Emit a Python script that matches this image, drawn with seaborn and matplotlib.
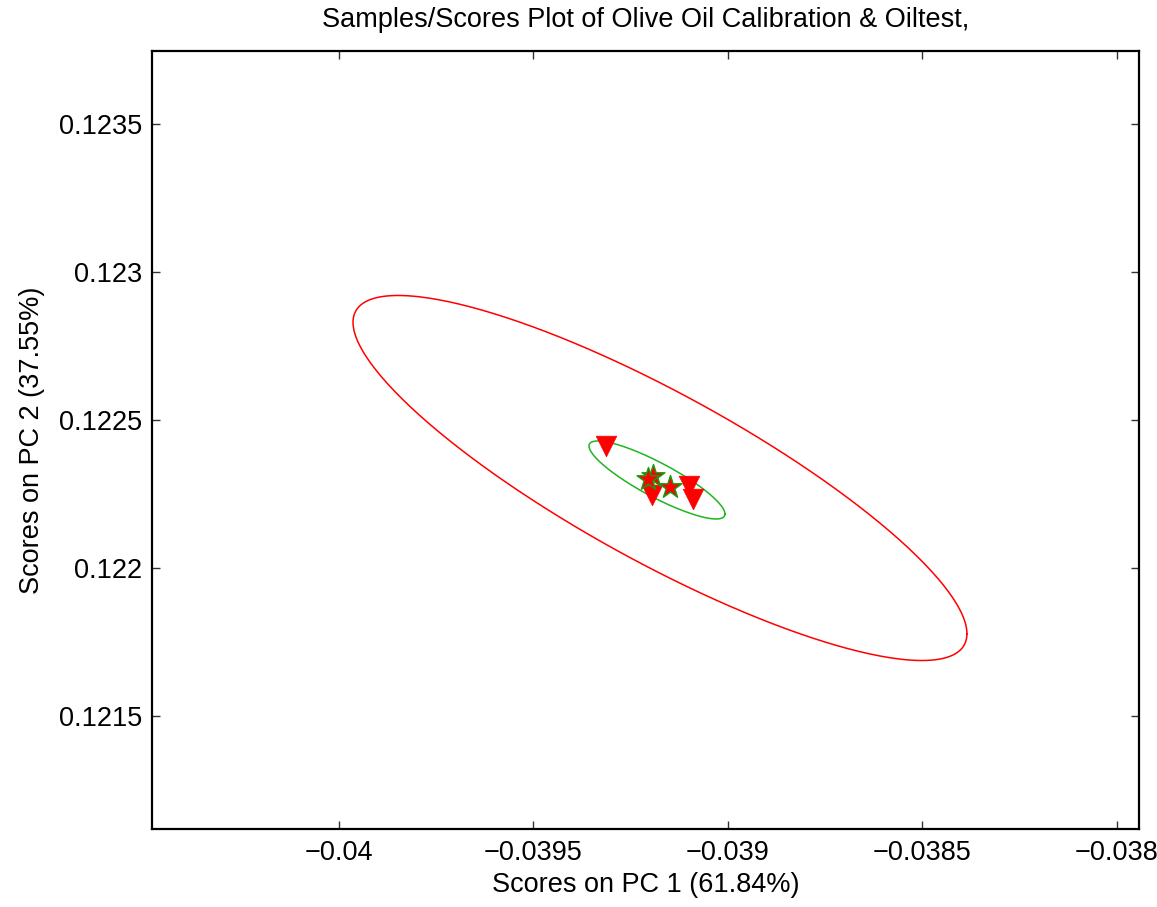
import numpy as np
import pandas as pd
import matplotlib
matplotlib.use("Agg")
import matplotlib.pyplot as plt
import seaborn as sns

# ---- data ----
test_pc1 = [-0.0393136, -0.0391954, -0.0391003, -0.0390900]
test_pc2 = [0.1224122, 0.1222449, 0.1222770, 0.1222331]

cal_pc1 = [-0.0391928, -0.0392056, -0.0391491]
cal_pc2 = [0.1223108, 0.1223007, 0.1222736]

# confidence ellipses: centre, half-extent in x, half-extent in y, correlation
red_ellipse = dict(cx=-0.0391748, cy=0.1223040, wx=7.892e-4, hy=6.166e-4, r=-0.853)
green_ellipse = dict(cx=-0.0391825, cy=0.1222973, wx=1.748e-4, hy=1.318e-4, r=-0.87)

xticks = [-0.04, -0.0395, -0.039, -0.0385, -0.038]
xtick_labels = ["\u22120.04", "\u22120.0395", "\u22120.039", "\u22120.0385", "\u22120.038"]
yticks = [0.1215, 0.122, 0.1225, 0.123, 0.1235]
ytick_labels = ["0.1215", "0.122", "0.1225", "0.123", "0.1235"]
xlim = (-0.0404807, -0.0379434)
ylim = (0.1211182, 0.1237466)

title = "Samples/Scores Plot of Olive Oil Calibration & Oiltest,"
xlabel = "Scores on PC 1 (61.84%)"
ylabel = "Scores on PC 2 (37.55%)"


def ellipse_frame(e, n=400):
    t = np.linspace(0, 2 * np.pi, n)
    x = e["cx"] + e["wx"] * np.cos(t)
    y = e["cy"] + e["hy"] * (e["r"] * np.cos(t) + np.sqrt(1 - e["r"] ** 2) * np.sin(t))
    return pd.DataFrame({"x": x, "y": y})


sns.set_style("ticks")
plt.rcParams["font.family"] = ["Liberation Sans", "DejaVu Sans"]
plt.rcParams["axes.unicode_minus"] = True
plt.rcParams["text.color"] = "black"
plt.rcParams["axes.labelcolor"] = "black"
plt.rcParams["xtick.labelcolor"] = "black"
plt.rcParams["ytick.labelcolor"] = "black"

fig = plt.figure(figsize=(11.57, 9.07), dpi=100)
ax = fig.add_axes([0.1314, 0.0860, 0.8530, 0.8578])

sns.lineplot(data=ellipse_frame(red_ellipse), x="x", y="y", sort=False,
             estimator=None, color="#ff0000", linewidth=1.1, ax=ax)
sns.lineplot(data=ellipse_frame(green_ellipse), x="x", y="y", sort=False,
             estimator=None, color="#1fb51f", linewidth=1.1, ax=ax)

test_df = pd.DataFrame({"x": test_pc1, "y": test_pc2})
cal_df = pd.DataFrame({"x": cal_pc1, "y": cal_pc2})
sns.scatterplot(data=test_df, x="x", y="y", marker="v", s=220,
                color="#ff0000", edgecolor="#ff0000", linewidth=0.5, ax=ax, zorder=3)
sns.scatterplot(data=cal_df, x="x", y="y", marker="*", s=300,
                color="#ff0000", edgecolor="#10a010", linewidth=1.0, ax=ax, zorder=4)

ax.set_xlim(*xlim)
ax.set_ylim(*ylim)
ax.set_xticks(xticks)
ax.set_xticklabels(xtick_labels)
ax.set_yticks(yticks)
ax.set_yticklabels(ytick_labels)

fs = 19.5
ax.tick_params(direction="in", length=6, width=1.0, color="#333333",
               labelsize=fs, labelcolor="black", top=True, right=True, pad=8)
ax.tick_params(axis="y", pad=7)
for sp in ax.spines.values():
    sp.set_visible(True)
    sp.set_linewidth(1.6)
    sp.set_color("black")

ax.set_xlabel(xlabel, fontsize=fs, labelpad=4, color="black")
ax.set_ylabel(ylabel, fontsize=fs, labelpad=10, color="black")
ax.set_title(title, fontsize=fs, pad=17, color="black")

fig.savefig("out.png", dpi=100, facecolor="white")
